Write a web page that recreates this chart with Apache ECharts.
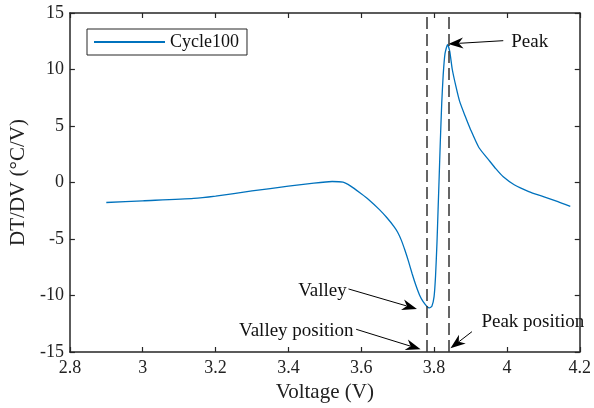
<!DOCTYPE html>
<html>
<head>
<meta charset="utf-8">
<script src="https://cdn.jsdelivr.net/npm/echarts@6/dist/echarts.min.js"></script>
<style>
  html, body { margin: 0; padding: 0; background: #fff; }
  #main { width: 594px; height: 408px; }
</style>
</head>
<body>
<div id="main"></div>
<script>
// curve
const voltage = [2.9, 3.0, 3.14, 3.2, 3.3, 3.4, 3.47, 3.52, 3.55, 3.57, 3.6, 3.62, 3.65, 3.67, 3.69, 3.70, 3.71, 3.72, 3.73, 3.74, 3.75, 3.76, 3.77, 3.78, 3.787, 3.794, 3.8, 3.804, 3.808, 3.811, 3.814, 3.817, 3.821, 3.825, 3.83, 3.837, 3.843, 3.85, 3.86, 3.87, 3.885, 3.9, 3.923, 3.95, 3.97, 3.99, 4.02, 4.06, 4.1, 4.14, 4.174]
const dtdv = [-1.77, -1.62, -1.41, -1.2, -0.75, -0.33, -0.05, 0.09, 0.03, -0.3, -1.0, -1.5, -2.4, -3.1, -3.9, -4.4, -5.1, -6.0, -7.0, -8.1, -9.1, -9.95, -10.55, -10.95, -11.1, -10.95, -10.1, -8.3, -5.3, -2.4, 0.5, 3.5, 7.0, 9.5, 11.4, 12.2, 11.6, 10.0, 8.5, 7.2, 5.9, 4.7, 3.1, 2.0, 1.2, 0.5, -0.2, -0.8, -1.25, -1.7, -2.12]

// dashed marker lines (valley / peak position)
const markerX = [3.783, 3.836]

// annotations in data units: text anchor, arrow tail, arrow tip
const notes = [
  { text: 'Peak', align: 'left', at: [4.012, 12.46], from: [3.99, 12.55], to: [3.839, 12.26] },
  { text: 'Valley', align: 'right', at: [3.560, -9.58], from: [3.565, -9.42], to: [3.753, -11.19] },
  { text: 'Valley position', align: 'right', at: [3.579, -13.13], from: [3.586, -12.99], to: [3.763, -14.76] },
  { text: 'Peak position', align: 'left', at: [3.930, -12.32], from: [3.904, -13.2], to: [3.845, -14.67] }
]

const FONT = 'Liberation Serif'
const AXIS = '#262626'

const chart = echarts.init(document.getElementById('main'))

const tickStyle = { inside: true, length: 5, lineStyle: { color: AXIS, width: 1.2 } }
const lineStyle = { onZero: false, lineStyle: { color: AXIS, width: 1.5 } }

chart.setOption({
  animation: false,
  backgroundColor: '#fff',
  grid: { left: 68, right: 12, top: 13, bottom: 56 },
  legend: {
    left: 87, top: 29,
    padding: [4, 8, 4, 7],
    itemWidth: 71, itemHeight: 2,
    itemGap: 0,
    borderColor: AXIS, borderWidth: 1, borderRadius: 0,
    backgroundColor: '#fff',
    textStyle: { fontFamily: FONT, fontSize: 18, color: '#111' },
    data: [{ name: 'Cycle100', icon: 'rect' }]
  },
  xAxis: [{
    type: 'value', min: 2.8, max: 4.2, interval: 0.2,
    name: 'Voltage (V)', nameLocation: 'middle', nameGap: 30,
    nameTextStyle: { fontFamily: FONT, fontSize: 21, color: '#222' },
    axisLine: lineStyle, axisTick: tickStyle, splitLine: { show: false },
    axisLabel: { fontFamily: FONT, fontSize: 18, color: '#222', margin: 7 }
  }, {
    type: 'value', min: 2.8, max: 4.2, interval: 0.2, position: 'top',
    axisLine: lineStyle, axisTick: tickStyle, splitLine: { show: false },
    axisLabel: { show: false }
  }],
  yAxis: [{
    type: 'value', min: -15, max: 15, interval: 5,
    name: 'DT/DV (°C/V)', nameLocation: 'middle', nameGap: 31,
    nameTextStyle: { fontFamily: FONT, fontSize: 21, color: '#222' },
    axisLine: lineStyle, axisTick: tickStyle, splitLine: { show: false },
    axisLabel: { fontFamily: FONT, fontSize: 18, color: '#222', margin: 6 }
  }, {
    type: 'value', min: -15, max: 15, interval: 5, position: 'right',
    axisLine: lineStyle, axisTick: tickStyle, splitLine: { show: false },
    axisLabel: { show: false }
  }],
  series: [{
    name: 'Cycle100',
    type: 'line',
    data: voltage.map((v, i) => [v, dtdv[i]]),
    symbol: 'none',
    smooth: 0.2,
    lineStyle: { color: '#0072BD', width: 1.3 },
    itemStyle: { color: '#0072BD' },
    markLine: {
      silent: true, symbol: 'none', label: { show: false },
      lineStyle: { color: '#333', width: 1.5, type: [12, 5] },
      data: markerX.map(x => ({ xAxis: x }))
    }
  }]
})

// arrows + text, placed from data units
const graphics = []
notes.forEach(n => {
  const p = chart.convertToPixel({ gridIndex: 0 }, n.at)
  const a = chart.convertToPixel({ gridIndex: 0 }, n.from)
  const b = chart.convertToPixel({ gridIndex: 0 }, n.to)
  const dx = b[0] - a[0], dy = b[1] - a[1]
  const len = Math.sqrt(dx * dx + dy * dy)
  const ux = dx / len, uy = dy / len
  const nx = -uy, ny = ux
  const L = 15, W = 5.5
  const back = [b[0] - ux * L, b[1] - uy * L]
  graphics.push({
    type: 'line',
    shape: { x1: a[0], y1: a[1], x2: back[0] + ux * 4, y2: back[1] + uy * 4 },
    style: { stroke: '#000', lineWidth: 1 }
  })
  graphics.push({
    type: 'polygon',
    shape: { points: [
      b,
      [back[0] + nx * W, back[1] + ny * W],
      [b[0] - ux * L * 0.7, b[1] - uy * L * 0.7],
      [back[0] - nx * W, back[1] - ny * W]
    ] },
    style: { fill: '#000' }
  })
  graphics.push({
    type: 'text',
    x: p[0], y: p[1],
    style: {
      text: n.text, fontFamily: FONT, fontSize: 19, fill: '#111',
      align: n.align, verticalAlign: 'middle'
    }
  })
})
chart.setOption({ graphic: graphics })
</script>
</body>
</html>
